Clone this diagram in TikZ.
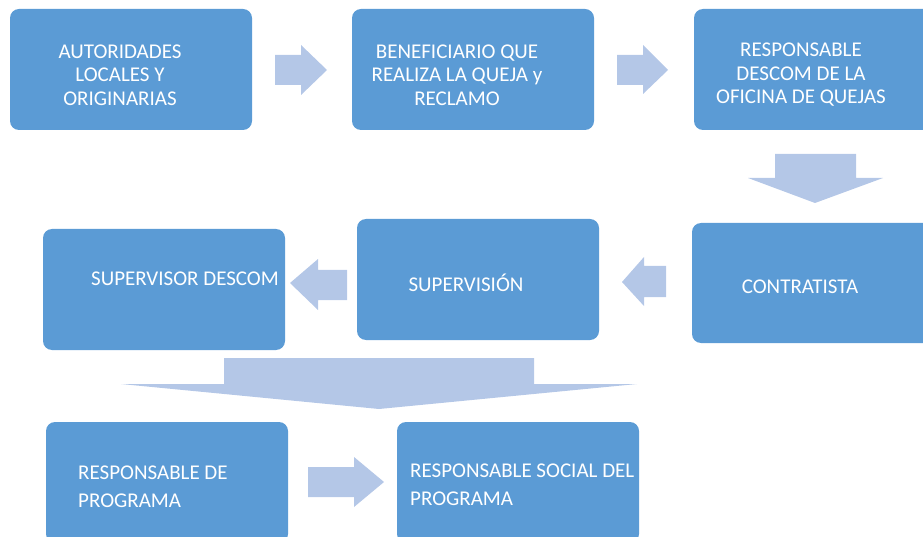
\documentclass[tikz,border=0pt]{standalone}
\usepackage{fontspec}
\setmainfont{Carlito}
\usetikzlibrary{positioning}
\definecolor{boxblue}{HTML}{5B9BD5}
\definecolor{arrowblue}{HTML}{B4C7E7}
\tikzset{stage/.style={rectangle, rounded corners=9pt, fill=boxblue, minimum width=242pt, minimum height=121pt, inner sep=0pt}}
\tikzset{txt/.style={text=white, font=\fontsize{21}{23.5}\selectfont, align=center, inner sep=0pt}}
\tikzset{txtl/.style={txt, anchor=west, align=left, font=\fontsize{21}{28}\selectfont}}
\tikzset{blk/.style={fill=arrowblue}}

\begin{document}
\begin{tikzpicture}[x=1pt, y=-1pt]
\useasboundingbox (0,0) rectangle (923,537);
\clip (0,0) rectangle (923,537);

% boxes
\node[stage] (aut) at (131,69.5) {};
\node[stage] (ben) at (473,69.5) {};
\node[stage] (resp) at (815,69.5) {};
\node[stage, minimum height=120pt] (con) at (813,283) {};
\node[stage] (sup) at (478,279.5) {};
\node[stage] (supd) at (164,289.5) {};
\node[stage] (rprog) at (167,482.5) {};
\node[stage] (rsoc) at (518,482.5) {};

% texts
\node[txt] (autT) at (120,75) {AUTORIDADES\\LOCALES Y\\ORIGINARIAS};
\node[txt] (benT) at (457,75) {BENEFICIARIO QUE\\REALIZA LA QUEJA y\\RECLAMO};
\node[txt] (respT) at (801,75) {RESPONSABLE\\DESCOM DE LA\\OFICINA DE QUEJAS};
\node[txt] (conT) at (800,287) {CONTRATISTA};
\node[txt] (supT) at (466,283) {SUPERVISIÓN};
\node[txt] (supdT) at (185,279) {SUPERVISOR DESCOM};
\node[txtl] (rprogT) at (78,487) {RESPONSABLE DE\\PROGRAMA};
\node[txtl] (rsocT) at (410,484.5) {RESPONSABLE SOCIAL DEL\\PROGRAMA};

% block arrows
\fill[blk] (275,55) -- (301,55) -- (301,45) -- (327,70) -- (301,95) -- (301,85) -- (275,85) -- cycle;
\fill[blk] (617,55) -- (643,55) -- (643,45) -- (668,70) -- (643,94) -- (643,85) -- (617,85) -- cycle;
\fill[blk] (775,154) -- (856,154) -- (856,178) -- (883,178) -- (815,203) -- (748,178) -- (775,178) -- cycle;
\fill[blk] (666,266) -- (644,266) -- (644,257) -- (622,282) -- (644,306) -- (644,297) -- (666,297) -- cycle;
\fill[blk] (347,270) -- (318,270) -- (318,259) -- (290,283) -- (318,310) -- (318,300) -- (347,300) -- cycle;
\fill[blk] (224,358) -- (534,358) -- (534,384) -- (637,384) -- (379,409) -- (121,384) -- (224,384) -- cycle;
\fill[blk] (308,467) -- (354,467) -- (354,457) -- (384,482) -- (354,507) -- (354,497) -- (308,497) -- cycle;
\end{tikzpicture}
\end{document}
